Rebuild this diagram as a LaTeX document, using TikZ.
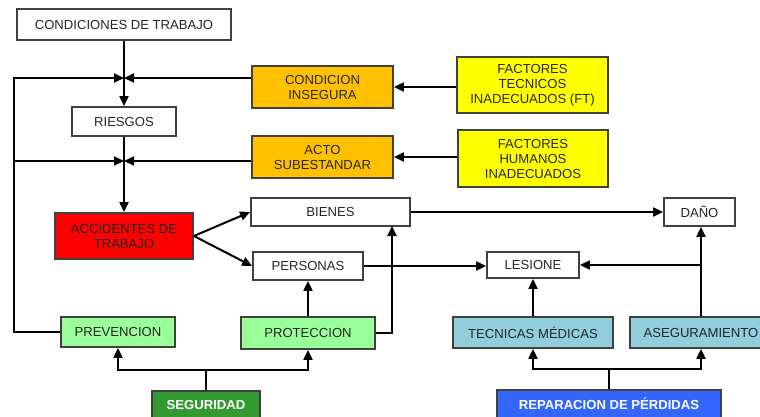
\documentclass[tikz,border=0pt]{standalone}
\usepackage{fontspec}
\setmainfont{Liberation Sans}
\usetikzlibrary{arrows.meta,calc}
\definecolor{txt}{HTML}{262626}
\definecolor{bord}{HTML}{404040}
\definecolor{orangeF}{HTML}{FFC000}
\definecolor{yellowF}{HTML}{FFFF00}
\definecolor{redF}{HTML}{FF0000}
\definecolor{lgreenF}{HTML}{99FF99}
\definecolor{dgreenF}{HTML}{339933}
\definecolor{blueF}{HTML}{3366FF}
\definecolor{lblueF}{HTML}{92CDDC}
\tikzset{
  box/.style={draw=bord, line width=1.8pt, inner sep=0pt, align=center,
    text=txt, font=\fontsize{13.1}{15}\selectfont},
  wbox/.style={box, fill=white},
  obox/.style={box, fill=orangeF},
  ybox/.style={box, fill=yellowF},
  rbox/.style={box, fill=redF},
  gbox/.style={box, fill=lgreenF},
  cbox/.style={box, fill=lblueF},
  bigbox/.style={box, text=white, font=\fontsize{13.1}{15}\selectfont\bfseries},
  arr/.style={line width=2pt, draw=black, -{Triangle[length=10pt,width=9pt]}},
  ln/.style={line width=2pt, draw=black}
}
\begin{document}
\begin{tikzpicture}[x=1pt,y=-1pt]
\useasboundingbox (0,0) rectangle (760,416);
\clip (0,0) rectangle (760,416);
\fill[white] (0,0) rectangle (760,416);

\node[wbox, minimum width=214pt, minimum height=31pt] (cond) at (124,24.5) {CONDICIONES DE TRABAJO};
\node[wbox, minimum width=104pt, minimum height=29pt] (riesgos) at (124,121.5) {RIESGOS};
\node[obox, minimum width=141pt, minimum height=42pt] (condins) at (322.5,87) {CONDICION\\INSEGURA};
\node[ybox, minimum width=151pt, minimum height=56pt] (ft) at (532.5,85) {FACTORES\\TECNICOS\\INADECUADOS (FT)};
\node[obox, minimum width=141pt, minimum height=42pt] (acto) at (322.5,157) {ACTO\\SUBESTANDAR};
\node[ybox, minimum width=150pt, minimum height=57pt] (fh) at (533,158.5) {FACTORES\\HUMANOS\\INADECUADOS};
\node[rbox, minimum width=138pt, minimum height=46pt] (acc) at (124,236) {ACCIDENTES DE\\TRABAJO};
\node[wbox, minimum width=159pt, minimum height=28pt] (bienes) at (330.5,212) {BIENES};
\node[wbox, minimum width=110pt, minimum height=28pt] (personas) at (308,266) {PERSONAS};
\node[wbox, minimum width=71pt, minimum height=28pt] (dano) at (699.5,212) {DAÑO};
\node[wbox, minimum width=92pt, minimum height=26pt] (lesione) at (533,265) {LESIONE};
\node[gbox, minimum width=114pt, minimum height=30pt] (prev) at (118,332) {PREVENCION};
\node[gbox, minimum width=134pt, minimum height=32pt] (prot) at (308,333) {PROTECCION};
\node[cbox, minimum width=160pt, minimum height=31pt] (tec) at (533,332.5) {TECNICAS MÉDICAS};
\node[cbox, minimum width=142pt, minimum height=31pt] (aseg) at (701,332.5) {ASEGURAMIENTO};
\node[bigbox, fill=dgreenF, minimum width=108pt, minimum height=28pt] (seg) at (206,405) {SEGURIDAD};
\node[bigbox, fill=blueF, minimum width=224pt, minimum height=28pt] (rep) at (609,404) {REPARACION DE PÉRDIDAS};

\coordinate (j1) at (124,78);
\coordinate (j2) at (124,161);
\coordinate (lc) at (14,332);
\coordinate (l2) at (14,161);
\coordinate (pb) at (392,226);
\coordinate (sj) at (206,370);
\coordinate (rj) at (609,369);

% main vertical chain
\draw[arr] (cond.south) -- (riesgos.north);
\draw[arr] (riesgos.south) -- (acc.north);
% left feedback
\draw[arr] (prev.west) -- (lc) |- (j1);
\draw[arr] (l2) -- (j2);
% right inputs to junctions
\draw[arr] (condins.west |- j1) -- (j1);
\draw[arr] (acto.west |- j2) -- (j2);
% factors
\draw[arr] (ft.west |- condins.east) -- (condins.east);
\draw[arr] (fh.west |- acto.east) -- (acto.east);
% accidents
\draw[arr] (acc.east) -- (bienes.west);
\draw[arr] (acc.east) -- (personas.west);
\draw[arr] (bienes.east) -- (dano.west |- bienes.east);
\draw[arr] (personas.east) -- (lesione.west |- personas.east);
% protection
\draw[arr] (prot.north) -- (personas.south);
\draw[arr] (prot.east) -| (pb);
% seguridad
\draw[ln] (seg.north) -- (sj);
\draw[arr] (sj) -| (prev.south);
\draw[arr] (sj) -| (prot.south);
% reparacion
\draw[ln] (rep.north) -- (rj);
\draw[arr] (rj) -| (tec.south);
\draw[arr] (rj) -| (aseg.south);
\draw[arr] (tec.north) -- (tec.north |- lesione.south);
\draw[arr] (aseg.north) -- (aseg.north |- dano.south);
\draw[arr] (aseg.north |- lesione.east) -- (lesione.east);
\end{tikzpicture}
\end{document}
